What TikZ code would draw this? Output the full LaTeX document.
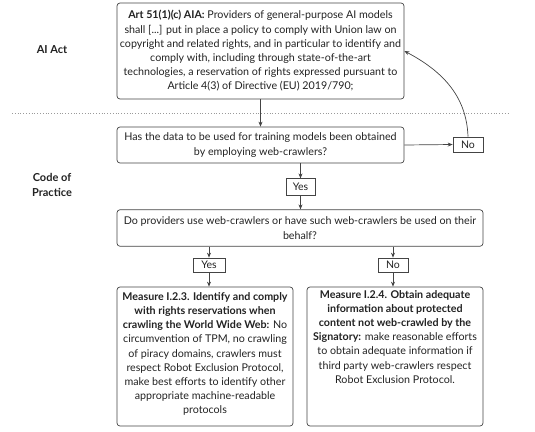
\documentclass[tikz,border=0pt]{standalone}
\usepackage{fontspec}
\setmainfont{Lato}
\usetikzlibrary{arrows.meta}
\definecolor{ink}{HTML}{222222}
\definecolor{edge}{HTML}{444444}
\definecolor{dots}{HTML}{9A9A9A}
\begin{document}
\begin{tikzpicture}[x=1pt,y=-1pt,
  txt/.style={font=\fontsize{10.7}{14.2}\selectfont, text=ink, align=center, inner sep=0pt},
  bigbox/.style={draw=edge, line width=0.7pt, rounded corners=3pt, inner sep=0pt},
  tag/.style={draw=edge, line width=0.7pt, font=\fontsize{10.5}{12}\selectfont, text=ink, inner sep=0pt},
  arr/.style={draw=edge, line width=0.7pt, -{Stealth[length=5pt,width=4pt]}},
  side/.style={font=\fontsize{11}{15}\selectfont\bfseries, text=ink, align=center}]
\useasboundingbox (0,0) rectangle (535,431);
% side labels
\node[side] (aiact) at (52,50) {AI Act};
\node[side] (cop) at (52,185) {Code of\\Practice};
% dotted separator
\coordinate (dl) at (12,113);
\coordinate (dr) at (510,113);
\draw[dots, line width=0.8pt, dotted] (dl) -- (dr);
% boxes
\node[bigbox, minimum width=287, minimum height=96] (art) at (260.5,51) {};
\node[txt] (arttxt) at (art.center) {\textbf{Art 51(1)(c) AIA:} Providers of general-purpose AI models\\shall [...] put in place a policy to comply with Union law on\\copyright and related rights, and in particular to identify and\\comply with, including through state-of-the-art\\technologies, a reservation of rights expressed pursuant to\\Article 4(3) of Directive (EU) 2019/790;};
\node[bigbox, minimum width=287, minimum height=36] (q1) at (260.5,145) {};
\node[txt] (q1txt) at (q1.center) {Has the data to be used for training models been obtained\\by employing web-crawlers?};
\node[tag, minimum width=30, minimum height=15] (no1) at (468,144.5) {No};
\node[tag, minimum width=29, minimum height=16.5] (yes1) at (300.5,187) {Yes};
\node[bigbox, minimum width=366, minimum height=36.5] (q2) at (300,228) {};
\node[txt] (q2txt) at (q2.center) {Do providers use web-crawlers or have such web-crawlers be used on their\\behalf?};
\node[tag, minimum width=32, minimum height=14] (yes2) at (209,265) {Yes};
\node[tag, minimum width=30, minimum height=14] (no2) at (393,265) {No};
\node[bigbox, minimum width=176, minimum height=139] (m3) at (205,356.5) {};
\node[txt] (m3txt) at (205,354) {\textbf{Measure I.2.3. Identify and comply}\\\textbf{with rights reservations when}\\\textbf{crawling the World Wide Web:} No\\circumvention of TPM, no crawling\\of piracy domains, crawlers must\\respect Robot Exclusion Protocol,\\make best efforts to identify other\\appropriate machine-readable\\protocols};
\node[bigbox, minimum width=176, minimum height=139] (m4) at (395,356.5) {};
\node[txt, anchor=north] (m4txt) at (395,290) {\textbf{Measure I.2.4. Obtain adequate}\\\textbf{information about protected}\\\textbf{content not web-crawled by the}\\\textbf{Signatory:} make reasonable efforts\\to obtain adequate information if\\third party web-crawlers respect\\Robot Exclusion Protocol.};
% connectors
\draw[arr] (art.south) -- (q1.north);
\draw[arr] (q1.east) -- (no1.west);
\draw[arr] (no1.north) to[out=92,in=-28] (art.east);
\draw[arr] (q1.south -| yes1.north) -- (yes1.north);
\draw[arr] (yes1.south) -- (q2.north -| yes1.south);
\draw[arr] (q2.south -| yes2.north) -- (yes2.north);
\draw[arr] (yes2.south) -- (m3.north -| yes2.south);
\draw[arr] (q2.south -| no2.north) -- (no2.north);
\draw[arr] (no2.south) -- (m4.north -| no2.south);
\end{tikzpicture}
\end{document}
